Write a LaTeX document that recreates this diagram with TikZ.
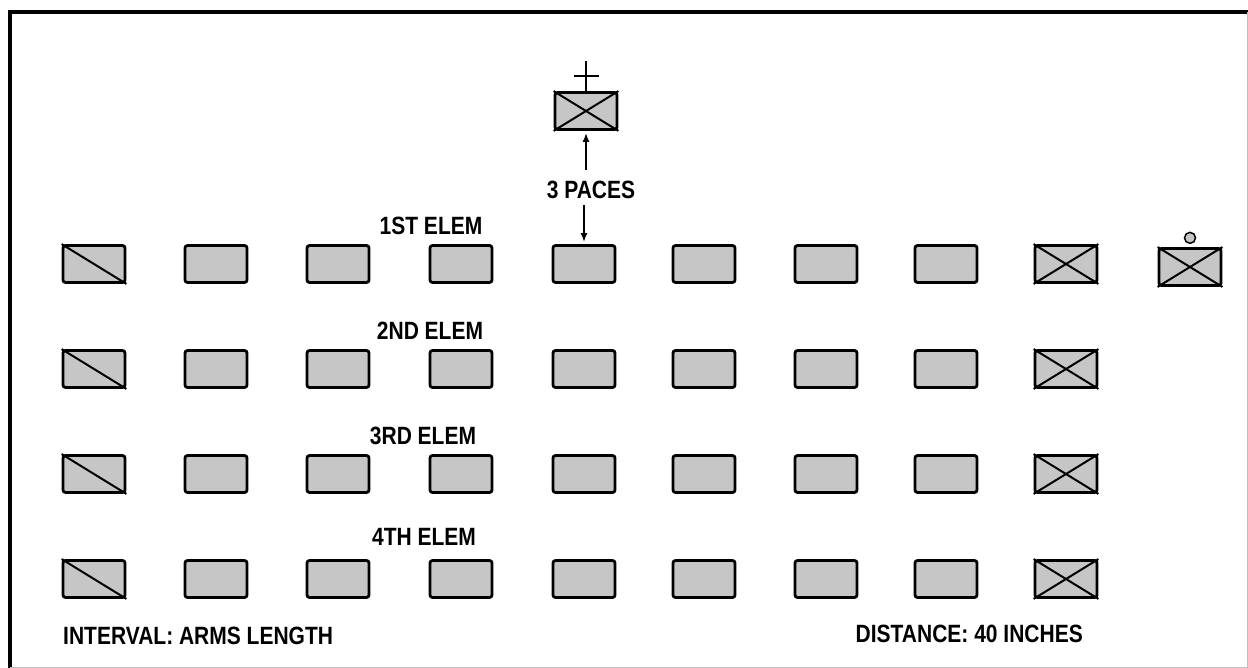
\documentclass[tikz,border=0pt]{standalone}
\usepackage{fontspec}
\setmainfont[FakeStretch=0.84]{Liberation Sans}
\usetikzlibrary{positioning,arrows.meta}
\tikzset{%
  man/.style = {shape=rectangle, rounded corners=2.5pt,
    draw, line width=2.8pt, fill=gray!45,
    minimum width=62pt, minimum height=37pt, inner sep=0pt},
  lbl/.style = {font=\fontsize{25}{25}\selectfont\bfseries, inner sep=0pt},
  pace/.style = {draw, line width=1.8pt, -{Latex[length=9pt,width=7pt]}},
  cross/.style = {line width=2pt}
}

\begin{document}
\begin{tikzpicture}[x=1pt,y=-1pt]
\useasboundingbox (0,0) rectangle (1248,668);
% frame
\draw[line width=4pt] (10,668) -- (10,12) -- (1248,12);
\draw[gray!50] (1247,12) -- (1247,667) -- (10,667);

% the four elements
\foreach \r/\y in {1/264,2/369,3/474,4/579} {
  \foreach \c/\x in {1/94,2/216,3/338,4/461,5/584,6/704,7/826,8/946,9/1066}
    \node[man] (r\r-\c) at (\x,\y) {};
  \draw[cross] (r\r-1.north west) -- (r\r-1.south east);
  \draw[cross] (r\r-9.north west) -- (r\r-9.south east)
    (r\r-9.south west) -- (r\r-9.north east);
}

% guide
\node[man] (guide) at (1190,267) {};
\draw[cross] (guide.north west) -- (guide.south east)
  (guide.south west) -- (guide.north east);
\node[circle, draw, line width=1.5pt, fill=gray!45, minimum size=11pt,
  inner sep=0pt, above=3pt of guide] (guidon) {};

% platoon leader
\node[man] (plt) at (586,111) {};
\draw[cross] (plt.north west) -- (plt.south east)
  (plt.south west) -- (plt.north east);
\coordinate[above=30pt of plt.north] (staff);
\draw[line width=2.6pt] (plt.north) -- (staff);
\draw[line width=2.6pt] ([xshift=-12pt,yshift=-15pt]staff) -- ++(25,0);

\node[lbl] (paces) at (591,190) {3 PACES};
\draw[pace] ([yshift=-39pt]plt.south) -- ([yshift=-2pt]plt.south);
\draw[pace] ([yshift=39pt]r1-5.north) -- ([yshift=2pt]r1-5.north);

% labels
\node[lbl] (e1) at (431,226) {1ST ELEM};
\node[lbl] (e2) at (430,331) {2ND ELEM};
\node[lbl] (e3) at (423,436) {3RD ELEM};
\node[lbl] (e4) at (424,537) {4TH ELEM};
\node[lbl, anchor=west] (intv) at (63,636) {INTERVAL: ARMS LENGTH};
\node[lbl, anchor=east] (dist) at (1083,634) {DISTANCE: 40 INCHES};
\end{tikzpicture}
\end{document}
